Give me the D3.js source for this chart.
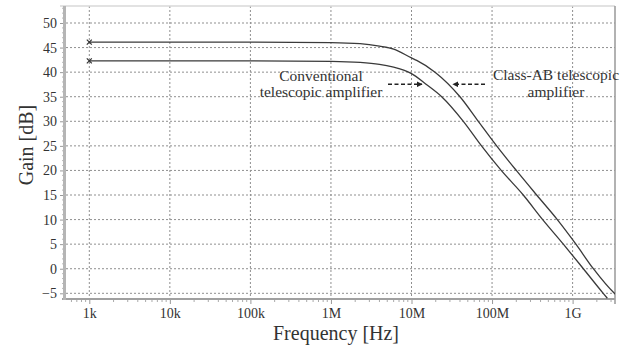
<!DOCTYPE html>
<html>
<head>
<meta charset="utf-8">
<script src="https://cdn.jsdelivr.net/npm/d3@7"></script>
<style>
  html, body { margin: 0; padding: 0; background: #fff; }
  svg { display: block; }
</style>
</head>
<body>
<svg id="chart" width="633" height="346"></svg>
<script>
// ---- data ----
const classAbFreq = [1e3, 1e4, 1e5, 1e6, 2.3e6, 4e6, 6e6, 1e7, 1.16e7, 1.96e7, 4e7, 6.75e7, 1.14e8, 2e8, 3.58e8, 6.46e8, 1.1e9, 1.81e9, 3.3e9, 3.4e9];
const classAbGain = [46.1, 46.1, 46.1, 46.0, 45.8, 45.3, 44.7, 42.9, 42.4, 40, 35, 30, 25, 20, 15, 10, 5, 0, -5, -5.2];
const convFreq = [1e3, 1e4, 1e5, 1e6, 2.3e6, 4e6, 6e6, 8e6, 1e7, 1.5e7, 2.37e7, 4.4e7, 7.4e7, 1.3e8, 2.44e8, 4.25e8, 7.67e8, 1.36e9, 2.4e9, 2.7e9];
const convGain = [42.3, 42.3, 42.3, 42.2, 42.0, 41.6, 41.0, 40.4, 39.7, 37.6, 35, 30, 25, 20, 15, 10, 5, 0, -5, -6];
const xTickValues = [1e3, 1e4, 1e5, 1e6, 1e7, 1e8, 1e9];
const xTickLabels = ["1k", "10k", "100k", "1M", "10M", "100M", "1G"];
const yTickValues = [-5, 0, 5, 10, 15, 20, 25, 30, 35, 40, 45, 50];
const annotationConv = ["Conventional", "telescopic amplifier"];
const annotationAB = ["Class-AB telescopic", "amplifier"];
const xTitle = "Frequency [Hz]";
const yTitle = "Gain [dB]";

// ---- layout ----
const FONT = '"Liberation Serif", "Times New Roman", serif';
const svg = d3.select("#chart");
const frame = { left: 66, right: 615, top: 6, bottom: 299 };

const x = d3.scaleLog().domain([1e3, 1e9]).range([89.3, 572.6]);
const y = d3.scaleLinear().domain([-5, 50]).range([293.3, 23]);
const xMin = x.invert(frame.left), xMax = x.invert(frame.right);

// clip path
const defs = svg.append("defs");
defs.append("clipPath").attr("id", "plotclip")
  .append("rect").attr("x", frame.left).attr("y", frame.top)
  .attr("width", frame.right - frame.left).attr("height", frame.bottom - frame.top);

// arrow marker
defs.append("marker")
  .attr("id", "arrowhead").attr("viewBox", "0 0 10 10")
  .attr("refX", 9).attr("refY", 5)
  .attr("markerWidth", 6).attr("markerHeight", 6)
  .attr("markerUnits", "userSpaceOnUse")
  .attr("orient", "auto")
  .append("path").attr("d", "M0,0 L10,5 L0,10 Z").attr("fill", "#222");

// grid
const grid = svg.append("g");
grid.selectAll("line.v").data(xTickValues).enter().append("line")
  .attr("x1", d => x(d)).attr("x2", d => x(d))
  .attr("y1", frame.top).attr("y2", frame.bottom)
  .attr("stroke", "#8f8f8f").attr("stroke-width", 1).attr("stroke-dasharray", "2,2");
grid.selectAll("line.h").data(yTickValues).enter().append("line")
  .attr("x1", frame.left).attr("x2", frame.right)
  .attr("y1", d => y(d)).attr("y2", d => y(d))
  .attr("stroke", "#8f8f8f").attr("stroke-width", 1).attr("stroke-dasharray", "2,2");

// frame borders
svg.append("line").attr("x1", 60).attr("x2", frame.right)
  .attr("y1", frame.top).attr("y2", frame.top).attr("stroke", "#d8d8d8").attr("stroke-width", 1.5);
svg.append("line").attr("x1", frame.right).attr("x2", frame.right)
  .attr("y1", frame.top).attr("y2", 304).attr("stroke", "#999").attr("stroke-width", 1.5);

// x axis
const xMinor = [];
for (let e = 2; e <= 9; e++) {
  for (let m = 2; m <= 9; m++) {
    const v = m * Math.pow(10, e);
    if (v >= xMin && v <= xMax) xMinor.push(v);
  }
}
const xAxis = d3.axisBottom(x).tickValues(xTickValues)
  .tickFormat((d, i) => xTickLabels[i]).tickSize(5).tickPadding(4);
const gx = svg.append("g").attr("transform", `translate(0,${frame.bottom})`).call(xAxis);
gx.attr("font-family", FONT).attr("font-size", 14);
gx.select(".domain").remove();
gx.selectAll(".tick line").attr("stroke", "#999");
gx.selectAll(".tick text").attr("fill", "#333");
svg.append("g").selectAll("line").data(xMinor).enter().append("line")
  .attr("x1", d => x(d)).attr("x2", d => x(d))
  .attr("y1", frame.bottom).attr("y2", frame.bottom + 3)
  .attr("stroke", "#aaa").attr("stroke-width", 1);
svg.append("line").attr("x1", 62).attr("x2", frame.right)
  .attr("y1", frame.bottom).attr("y2", frame.bottom).attr("stroke", "#a0a0a0").attr("stroke-width", 2);

// y axis
const yAxis = d3.axisLeft(y).tickValues(yTickValues).tickSize(5).tickPadding(3);
const gy = svg.append("g").attr("transform", `translate(${frame.left - 1},0)`).call(yAxis);
gy.attr("font-family", FONT).attr("font-size", 14);
gy.select(".domain").remove();
gy.selectAll(".tick line").attr("stroke", "#999");
gy.selectAll(".tick text").attr("fill", "#333");
const yMinor = d3.range(-5, 54, 1).filter(v => v % 5 !== 0);
svg.append("g").selectAll("line").data(yMinor).enter().append("line")
  .attr("x1", frame.left - 4).attr("x2", frame.left - 1)
  .attr("y1", d => y(d)).attr("y2", d => y(d))
  .attr("stroke", "#bbb").attr("stroke-width", 1);
svg.append("line").attr("x1", frame.left - 1.5).attr("x2", frame.left - 1.5)
  .attr("y1", frame.top).attr("y2", frame.bottom + 1).attr("stroke", "#b5b5b5").attr("stroke-width", 3);

// curves
const line = d3.line().x(d => x(d[0])).y(d => y(d[1])).curve(d3.curveMonotoneX);
const seriesList = [
  d3.zip(classAbFreq, classAbGain),
  d3.zip(convFreq, convGain)
];
const plot = svg.append("g").attr("clip-path", "url(#plotclip)");
plot.selectAll("path.curve").data(seriesList).enter().append("path")
  .attr("d", line).attr("fill", "none")
  .attr("stroke", "#3a3a3a").attr("stroke-width", 1.3);

// start markers (x)
const marks = svg.append("g");
seriesList.forEach(s => {
  const px = x(s[0][0]), py = y(s[0][1]), r = 2.5;
  marks.append("path")
    .attr("d", `M${px - r},${py - r}L${px + r},${py + r}M${px - r},${py + r}L${px + r},${py - r}`)
    .attr("stroke", "#333").attr("stroke-width", 1.2);
});

// annotations
function addLines(lines, cx, y0, dy) {
  const t = svg.append("text").attr("text-anchor", "middle")
    .attr("font-family", FONT).attr("font-size", 15.5).attr("fill", "#333");
  lines.forEach((s, i) => t.append("tspan").attr("x", cx).attr("y", y0 + i * dy).text(s));
}
addLines(annotationConv, 321, 80.5, 16.3);
addLines(annotationAB, 556, 80, 16.5);

svg.append("line").attr("x1", 388).attr("x2", 422).attr("y1", 84.3).attr("y2", 84.3)
  .attr("stroke", "#222").attr("stroke-width", 1.4).attr("stroke-dasharray", "4,2.5")
  .attr("marker-end", "url(#arrowhead)");
svg.append("line").attr("x1", 485).attr("x2", 453).attr("y1", 84.3).attr("y2", 84.3)
  .attr("stroke", "#222").attr("stroke-width", 1.4).attr("stroke-dasharray", "4,2.5")
  .attr("marker-end", "url(#arrowhead)");

// titles
svg.append("text").attr("x", 336).attr("y", 339.5).attr("text-anchor", "middle")
  .attr("font-family", FONT).attr("font-size", 20).attr("fill", "#333").text(xTitle);
svg.append("text").attr("transform", "translate(33,145) rotate(-90)").attr("text-anchor", "middle")
  .attr("font-family", FONT).attr("font-size", 20).attr("fill", "#333").text(yTitle);
</script>
</body>
</html>
